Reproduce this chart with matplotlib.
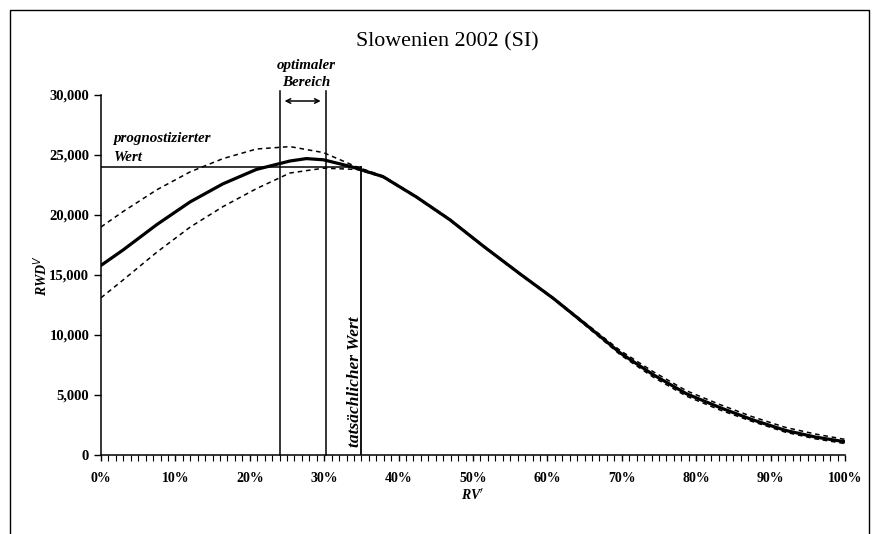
import numpy as np
import matplotlib
matplotlib.use("Agg")
import matplotlib.pyplot as plt
from matplotlib.ticker import FuncFormatter, MultipleLocator
from matplotlib.lines import Line2D

## Values (x in share 0..1, y in RWD units)
x_mid = [0.0, 0.03, 0.075, 0.12, 0.164, 0.209, 0.254, 0.276, 0.299, 0.335, 0.379,
         0.424, 0.469, 0.514, 0.563, 0.608, 0.653, 0.698, 0.742, 0.787, 0.832,
         0.875, 0.92, 0.96, 1.0]
y_mid = [15800, 17100, 19200, 21100, 22600, 23800, 24500, 24700, 24600, 24050, 23200,
         21500, 19600, 17400, 15100, 13050, 10800, 8500, 6700, 5100, 3950,
         2950, 2050, 1500, 1100]

x_up = [0.0, 0.03, 0.075, 0.12, 0.164, 0.209, 0.254, 0.299, 0.344, 0.379, 0.424, 0.469,
        0.514, 0.563, 0.608, 0.653, 0.698, 0.742, 0.787, 0.832, 0.875, 0.92, 0.96, 1.0]
y_up = [19000, 20300, 22100, 23600, 24700, 25500, 25700, 25200, 24000, 23250, 21550, 19650,
        17450, 15150, 13100, 10900, 8700, 6950, 5350, 4200, 3200, 2300, 1750, 1300]

x_low = [0.0, 0.03, 0.075, 0.12, 0.164, 0.209, 0.254, 0.299, 0.344, 0.379, 0.424, 0.469,
         0.514, 0.563, 0.608, 0.653, 0.698, 0.742, 0.787, 0.832, 0.875, 0.92, 0.96, 1.0]
y_low = [13100, 14600, 16900, 19000, 20700, 22200, 23500, 23900, 23800, 23150, 21450, 19550,
         17350, 15050, 13000, 10700, 8350, 6500, 4900, 3750, 2800, 1900, 1350, 950]

forecast_value = 24000
actual_x = 0.35
optimal_range = [0.24, 0.302]
y_ticks = [0, 5000, 10000, 15000, 20000, 25000, 30000]
x_ticks = [0.0, 0.1, 0.2, 0.3, 0.4, 0.5, 0.6, 0.7, 0.8, 0.9, 1.0]

serif = "Liberation Serif"

fig = plt.figure(figsize=(8.79, 5.34), dpi=100)
ax = fig.add_axes([101 / 879, 79 / 534, 744 / 879, 360 / 534])

# outer frame (left, top, right)
fig.add_artist(Line2D([10 / 879, 10 / 879, 869 / 879, 869 / 879],
                      [0, 1 - 10 / 534, 1 - 10 / 534, 0],
                      transform=fig.transFigure, color="black", lw=1.0))

ax.plot(x_up, y_up, color="black", lw=1.1, ls=(0, (3, 2.5)))
ax.plot(x_low, y_low, color="black", lw=1.1, ls=(0, (3, 2.5)))
ax.plot(x_mid, y_mid, color="black", lw=2.3, solid_joinstyle="round")

# forecast horizontal and actual vertical line
ax.plot([0, actual_x], [forecast_value, forecast_value], color="black", lw=1.1)
ax.plot([actual_x, actual_x], [0, forecast_value], color="black", lw=1.3)

# optimal range lines + arrow
for xv in optimal_range:
    ax.plot([xv, xv], [0, 30300], color="black", lw=1.1, clip_on=False)
ax.annotate("", xy=(optimal_range[1] - 0.003, 29500), xytext=(optimal_range[0] + 0.003, 29500),
            arrowprops=dict(arrowstyle="<->", color="black", lw=1.1, mutation_scale=8),
            annotation_clip=False)

txt = dict(family=serif, style="italic", weight="bold", fontsize=10.8, color="black")
ax.text(0.2755, 32500, "optimaler", ha="center", va="center", **txt)
ax.text(0.2755, 31000, "Bereich", ha="center", va="center", **txt)
ax.text(0.016, 26400, "prognostizierter", ha="left", va="center", **txt)
ax.text(0.0175, 24800, "Wert", ha="left", va="center", **txt)
ax.text(0.341, 6080, "tatsächlicher Wert", rotation=90, ha="center", va="center",
        family=serif, style="italic", weight="bold", fontsize=12.5)

ax.set_xlim(0, 1)
ax.set_ylim(0, 30000)
ax.spines["top"].set_visible(False)
ax.spines["right"].set_visible(False)
ax.spines["left"].set_linewidth(1.1)
ax.spines["bottom"].set_linewidth(1.1)

ax.set_xticks(x_ticks)
ax.xaxis.set_minor_locator(MultipleLocator(0.01))
ax.set_yticks(y_ticks)
ax.xaxis.set_major_formatter(FuncFormatter(lambda v, p: f"{v * 100:.0f}%"))
ax.yaxis.set_major_formatter(FuncFormatter(lambda v, p: f"{v:,.0f}"))
ax.tick_params(axis="x", which="major", direction="out", length=4, width=1, pad=8)
ax.tick_params(axis="x", which="minor", direction="out", length=4, width=0.8)
ax.tick_params(axis="y", which="major", direction="out", length=5, width=1)
for lab in ax.get_xticklabels():
    lab.set_family(serif)
    lab.set_weight("bold")
    lab.set_fontsize(10)
for lab in ax.get_yticklabels():
    lab.set_family(serif)
    lab.set_weight("bold")
    lab.set_fontsize(10.5)

ax.set_xlabel(r"RV$^{\prime}$", family=serif, style="italic", weight="bold", fontsize=10)
ax.set_ylabel(r"RWD$^{V}$", family=serif, style="italic", weight="bold", fontsize=10)
ax.xaxis.set_label_coords(0.5, -0.09)
ax.yaxis.set_label_coords(-0.068, 0.5)

fig.text(447 / 879, 1 - 42 / 534, "Slowenien 2002 (SI)", family=serif, fontsize=15.8,
         ha="center", va="center")

fig.savefig("out.png", dpi=100)
